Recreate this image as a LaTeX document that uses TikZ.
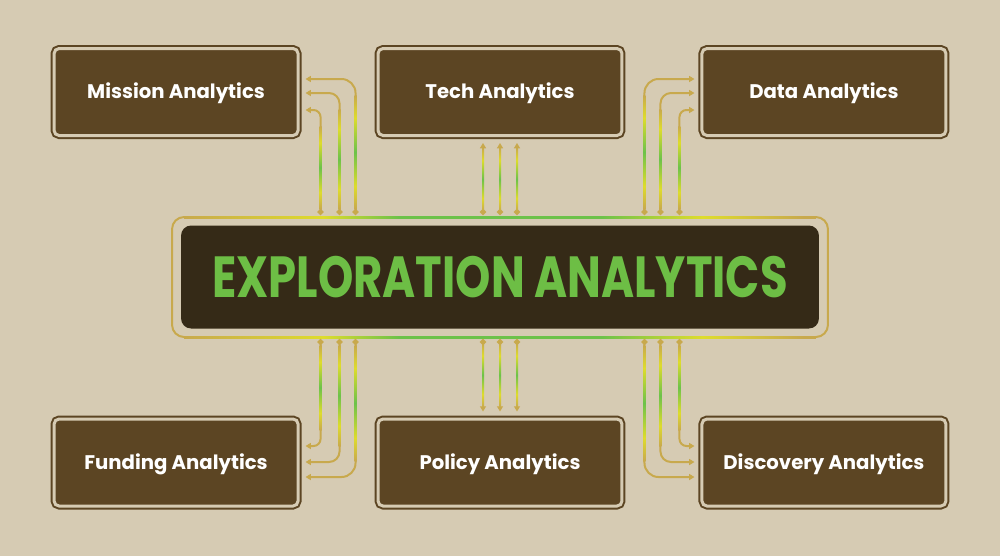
\documentclass[tikz,border=0pt]{standalone}
\usepackage{fontspec}
\setmainfont{Poppins}
\newfontfamily\titlefont[FakeStretch=0.775]{Poppins}
\usetikzlibrary{arrows.meta, calc, positioning}

\definecolor{paper}{HTML}{D6CBB3}
\definecolor{boxbrown}{HTML}{5C4523}
\definecolor{hubdark}{HTML}{352A17}
\definecolor{titlegreen}{HTML}{6DBE45}
\definecolor{wiregold}{HTML}{C8A94D}
\definecolor{wireyellow}{HTML}{DEDC2C}
\definecolor{wiregreen}{HTML}{6CC24A}

\pgfdeclareverticalshading{wireglow}{100bp}{color(0bp)=(wiregold); color(25bp)=(wiregold); color(35bp)=(wireyellow); color(50bp)=(wiregreen); color(65bp)=(wireyellow); color(75bp)=(wiregold); color(100bp)=(wiregold)}
\pgfdeclarehorizontalshading{railglow}{100bp}{color(0bp)=(wiregold); color(25bp)=(wiregold); color(36bp)=(wireyellow); color(42bp)=(wiregreen); color(58bp)=(wiregreen); color(66bp)=(wireyellow); color(74bp)=(wiregold); color(100bp)=(wiregold)}

\tikzset{
  box/.style={fill=boxbrown, draw=boxbrown, line width=0.04cm, double=paper, double distance=0.06cm,
    rounded corners=0.1cm, minimum width=4.88cm, minimum height=1.74cm, inner sep=0pt, outer sep=0pt,
    text=white, text height=7.8pt, text depth=0pt, font=\bfseries\fontsize{11.2}{12}\selectfont},
  hubframe/.style={draw=wiregold, line width=0.04cm, rounded corners=0.24cm,
    minimum width=13.12cm, minimum height=2.4cm, inner sep=0pt, outer sep=0pt},
  hub/.style={fill=hubdark, rounded corners=0.2cm, minimum width=12.76cm, minimum height=2.06cm,
    inner sep=0pt, text=titlegreen, text height=23pt, text depth=0pt,
    font=\titlefont\bfseries\fontsize{33}{33}\selectfont},
  wire/.style={draw=wiregold, line width=0.04cm, {Circle[length=3.4pt]}-{Triangle[length=3pt,width=3.4pt]}}
}

\begin{document}
\begin{tikzpicture}[x=0.02cm, y=-0.02cm, node distance=1.6cm]
  \fill[paper] (0,0) rectangle (1000,556);
  \useasboundingbox (0,0) rectangle (1000,556);

  % centre
  \node[hubframe] (hubframe) at (500,277) {};
  \node[hub] (hub) at (hubframe.center) {EXPLORATION ANALYTICS};
  \shade[shading=railglow] ($(hubframe.north west)+(12,-1)$) rectangle ($(hubframe.north east)+(-12,1)$);
  \shade[shading=railglow] ($(hubframe.south west)+(12,-1)$) rectangle ($(hubframe.south east)+(-12,1)$);

  % boxes
  \node[box] (tech) at (500,92) {Tech Analytics};
  \node[box, left=of tech] (mission) {Mission Analytics};
  \node[box, right=of tech] (data) {Data Analytics};
  \node[box] (policy) at (500,462.5) {Policy Analytics};
  \node[box, left=of policy] (funding) {Funding Analytics};
  \node[box, right=of policy] (discovery) {Discovery Analytics};

  % straight wires
  \foreach \dx in {-17,0,17}{
    \draw[wire] ($(tech.south |- hubframe.north)+(\dx,-2)$) -- ($(tech.south)+(\dx,7.5)$);
    \shade[shading=wireglow] ($(tech.south |- hubframe.north)+(\dx-1,-6)$) rectangle ($(tech.south)+(\dx+1,12)$);
    \draw[wire] ($(policy.north |- hubframe.south)+(\dx,2)$) -- ($(policy.north)+(\dx,-7.5)$);
    \shade[shading=wireglow] ($(policy.north |- hubframe.south)+(\dx-1,6)$) rectangle ($(policy.north)+(\dx+1,-12)$);
  }

  % bent wires, top
  \foreach \dx/\dy/\rr in {57.5/-13/8pt, 41.5/1/6pt, 22.5/18/4pt}{
    \draw[wire, rounded corners=\rr] ($(mission.east |- hubframe.north)+(\dx,-2)$) |- ($(mission.east)+(7.5,\dy)$);
    \shade[shading=wireglow] ($(mission.east |- hubframe.north)+(\dx-1,-8)$) rectangle ($(mission.east)+(\dx+1,\dy+16)$);
    \draw[wire, rounded corners=\rr] ($(data.west |- hubframe.north)+(-\dx,-2)$) |- ($(data.west)+(-7.5,\dy)$);
    \shade[shading=wireglow] ($(data.west |- hubframe.north)+(-\dx-1,-8)$) rectangle ($(data.west)+(-\dx+1,\dy+16)$);
  }

  % bent wires, bottom
  \foreach \dx/\dy/\rr in {57.5/14.5/8pt, 41.5/-0.5/6pt, 22.5/-16.5/4pt}{
    \draw[wire, rounded corners=\rr] ($(funding.east |- hubframe.south)+(\dx,2)$) |- ($(funding.east)+(7.5,\dy)$);
    \shade[shading=wireglow] ($(funding.east |- hubframe.south)+(\dx-1,8)$) rectangle ($(funding.east)+(\dx+1,\dy-16)$);
    \draw[wire, rounded corners=\rr] ($(discovery.west |- hubframe.south)+(-\dx,2)$) |- ($(discovery.west)+(-7.5,\dy)$);
    \shade[shading=wireglow] ($(discovery.west |- hubframe.south)+(-\dx-1,8)$) rectangle ($(discovery.west)+(-\dx+1,\dy-16)$);
  }
\end{tikzpicture}
\end{document}
